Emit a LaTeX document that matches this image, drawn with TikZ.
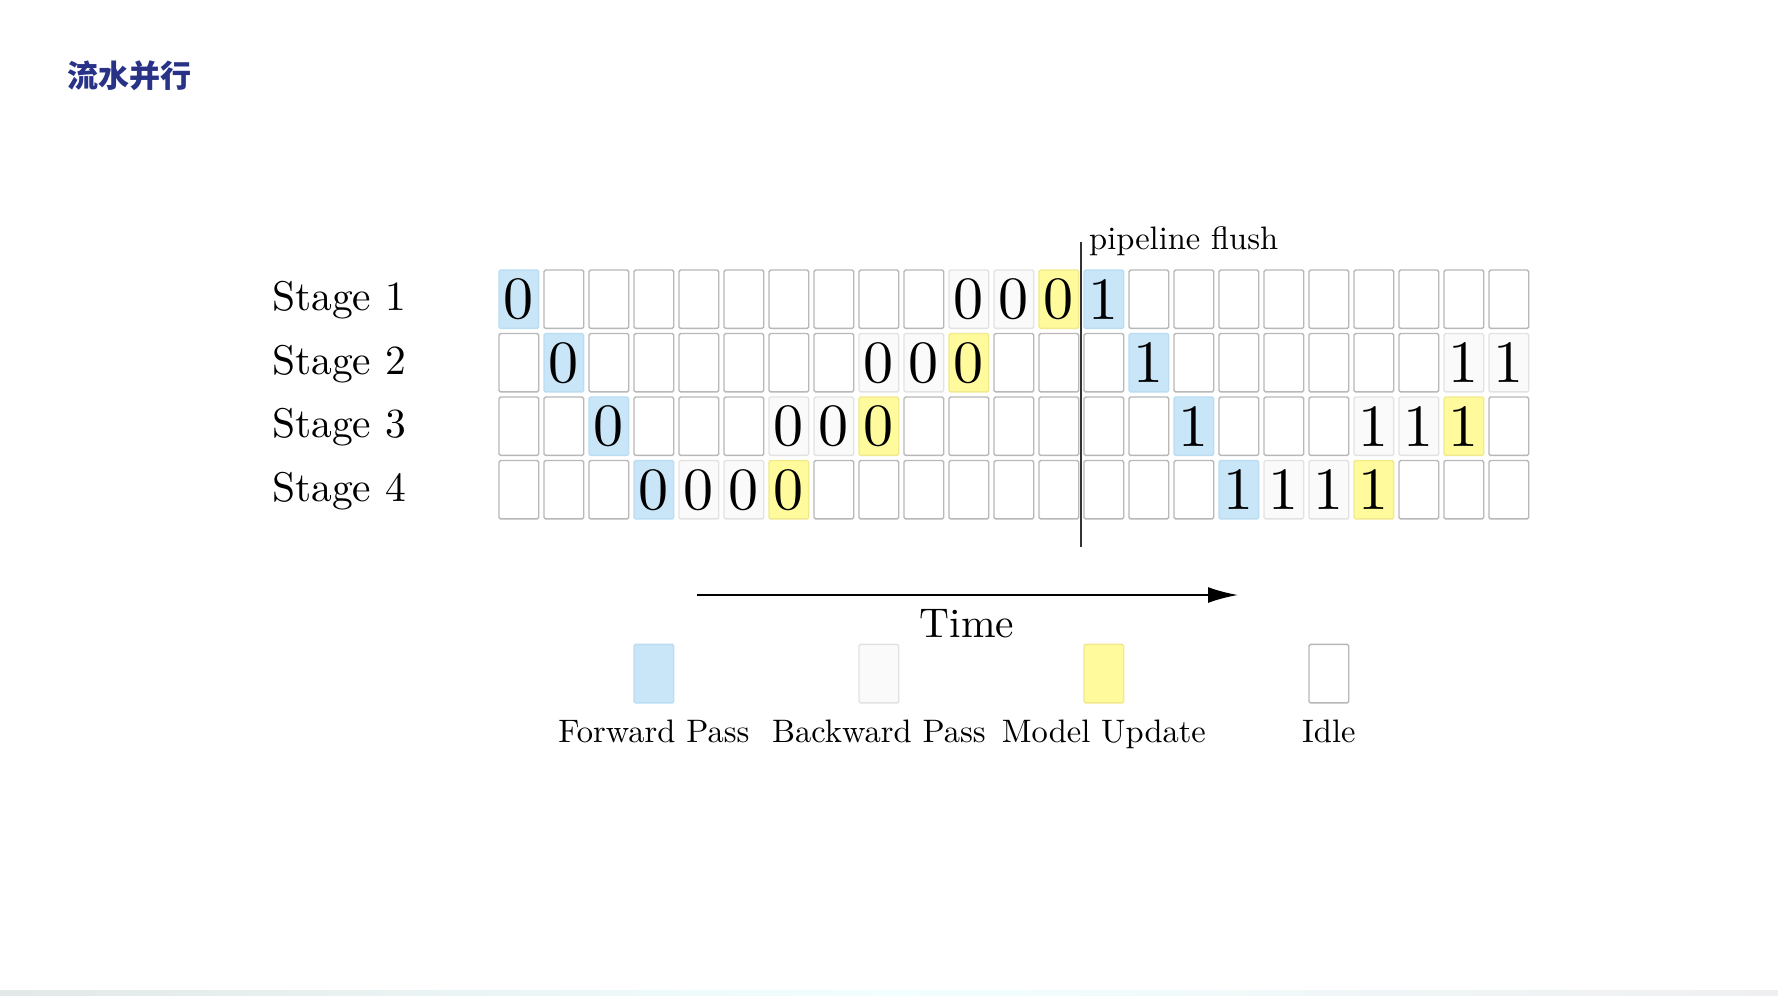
\documentclass[tikz,border=0pt]{standalone}
\usepackage{fontspec}
\setmainfont{lmroman10-regular.otf}
\newfontfamily\cjk{Noto Sans CJK SC}
\usetikzlibrary{arrows.meta}
\definecolor{fwdc}{HTML}{C8E6F8}
\definecolor{fwdb}{HTML}{BBDDF2}
\definecolor{bwdc}{HTML}{FAFAFA}
\definecolor{bwdb}{HTML}{E2E2E2}
\definecolor{updc}{HTML}{FFFB9C}
\definecolor{updb}{HTML}{F0EA8C}
\definecolor{idleb}{HTML}{B8B8B8}
\definecolor{titlec}{RGB}{40,50,135}
\definecolor{linec}{HTML}{333333}
\newcommand\stagerow[2]{%
  \foreach \s/\l [count=\i from 0] in {#2}{%
    \node[\s] (c#1-\i) at ({518.85+45*\i},{299.2+63.5*(#1-1)}) {\l};
  }%
}
\begin{document}
\begin{tikzpicture}[x=1pt,y=-1pt,
  cell/.style={minimum width=39.7pt,minimum height=58.4pt,inner sep=0pt,
    line width=1.4pt,rounded corners=1.5pt,font=\fontsize{60}{60}\selectfont},
  cI/.style={cell,draw=idleb,fill=white},
  cF/.style={cell,draw=fwdb,fill=fwdc},
  cB/.style={cell,draw=bwdb,fill=bwdc},
  cU/.style={cell,draw=updb,fill=updc},
  stagelbl/.style={anchor=base west,inner sep=0pt,font=\fontsize{41.5}{41.5}\selectfont},
  small/.style={anchor=base,inner sep=0pt,font=\fontsize{32.5}{32.5}\selectfont}]
\useasboundingbox (0,0) rectangle (1778,996);
\fill[white] (0,0) rectangle (1778,996);
\shade[left color=cyan!10!gray!20, right color=blue!5!gray!12, middle color=white!95!cyan] (0,990.5) rectangle (1778,996);

\node[anchor=west,inner sep=0pt,text=titlec,font=\cjk\bfseries\fontsize{31}{31}\selectfont] (title) at (67,76) {流水并行};

\node[stagelbl] (s1) at (272,310.5) {Stage 1};
\node[stagelbl] (s2) at (272,374.0) {Stage 2};
\node[stagelbl] (s3) at (272,437.5) {Stage 3};
\node[stagelbl] (s4) at (272,501.0) {Stage 4};

\stagerow{1}{cF/0,cI/{},cI/{},cI/{},cI/{},cI/{},cI/{},cI/{},cI/{},cI/{},cB/0,cB/0,cU/0,cF/1,cI/{},cI/{},cI/{},cI/{},cI/{},cI/{},cI/{},cI/{},cI/{}}
\stagerow{2}{cI/{},cF/0,cI/{},cI/{},cI/{},cI/{},cI/{},cI/{},cB/0,cB/0,cU/0,cI/{},cI/{},cI/{},cF/1,cI/{},cI/{},cI/{},cI/{},cI/{},cI/{},cB/1,cB/1}
\stagerow{3}{cI/{},cI/{},cF/0,cI/{},cI/{},cI/{},cB/0,cB/0,cU/0,cI/{},cI/{},cI/{},cI/{},cI/{},cI/{},cF/1,cI/{},cI/{},cI/{},cB/1,cB/1,cU/1,cI/{}}
\stagerow{4}{cI/{},cI/{},cI/{},cF/0,cB/0,cB/0,cU/0,cI/{},cI/{},cI/{},cI/{},cI/{},cI/{},cI/{},cI/{},cI/{},cF/1,cB/1,cB/1,cU/1,cI/{},cI/{},cI/{}}

\coordinate (ftop) at (1081.35,241.5);
\coordinate (fbot) at (1081.35,546.6);
\draw[line width=2pt,linec] (ftop) -- (fbot);
\node[small,anchor=base west] (flush) at (1089,249.5) {pipeline flush};

\coordinate (t0) at (697,595);
\coordinate (t1) at (1238,595);
\draw[line width=2pt,black,-{Latex[length=30pt,width=16pt]}] (t0) -- (t1);
\node[anchor=base,inner sep=0pt,font=\fontsize{41.5}{41.5}\selectfont] (time) at (967,637) {Time};

\node[cF] (lg1) at (653.85,673.6) {};
\node[cB] (lg2) at (878.85,673.6) {};
\node[cU] (lg3) at (1103.85,673.6) {};
\node[cI] (lg4) at (1328.85,673.6) {};
\node[small] (lt1) at (653.85,742) {Forward Pass};
\node[small] (lt2) at (878.85,742) {Backward Pass};
\node[small] (lt3) at (1103.85,742) {Model Update};
\node[small] (lt4) at (1328.85,742) {Idle};
\end{tikzpicture}
\end{document}
